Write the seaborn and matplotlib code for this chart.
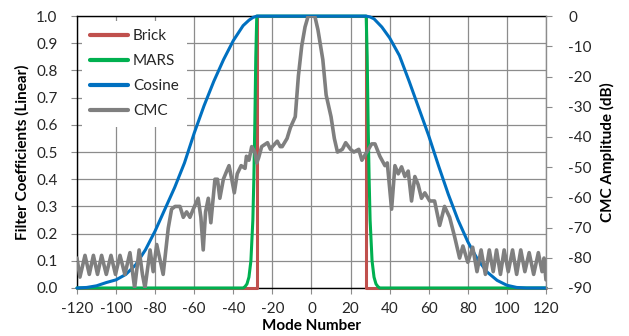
import numpy as np
import pandas as pd
import matplotlib
matplotlib.use("Agg")
import matplotlib.pyplot as plt
import seaborn as sns
from matplotlib.lines import Line2D

# ---------------- data ----------------
brick_x = [-120, -28, -28, 28, 28, 120]
brick_y = [0, 0, 1, 1, 0, 0]

mars_x = [-120, -35, -34, -33, -32, -31, -30, -29.5, -29, -28.5, -28,
          28, 28.5, 29, 29.5, 30, 31, 32, 33, 34, 35, 120]
mars_y = [0, 0, 0.005, 0.015, 0.04, 0.1, 0.25, 0.4, 0.6, 0.85, 1,
          1, 0.85, 0.6, 0.4, 0.25, 0.1, 0.04, 0.015, 0.005, 0, 0]

cos_x = [-120, -115, -110, -105, -100, -95, -90, -85, -80, -75, -70, -65,
         -60, -55, -50, -45, -40, -35, -32, -30, -28,
         28, 30, 32, 36, 40, 45, 50, 55, 60, 65, 70, 75, 80, 85, 90, 95,
         100, 105, 110, 115, 120]
cos_y = [0.0, 0.002, 0.008, 0.02, 0.03, 0.05, 0.085, 0.14, 0.21, 0.29, 0.37, 0.46,
         0.57, 0.67, 0.76, 0.84, 0.91, 0.965, 0.985, 0.995, 1.0,
         1.0, 0.997, 0.99, 0.96, 0.92, 0.855, 0.76, 0.66, 0.56, 0.45, 0.345,
         0.25, 0.17, 0.105, 0.058, 0.028, 0.01, 0.002, 0.0, 0.0, 0.0]

cmc_x = [-120, -118.5, -115.9, -113.7, -111.6, -109.5, -107.4, -105, -102.6,
         -100.3, -98, -95.5, -92.9, -90.5, -88.2, -86.5, -85.2, -82.6, -81,
         -79.2, -75.9, -73.3, -71.6, -69.8, -67.3, -65.6, -63.9, -62.2, -60.5,
         -58, -56.6, -55.4, -54.2, -52.8, -51.5, -49.4, -48.1, -46.9, -45.1,
         -43.4, -42.2, -40.8, -39.5, -38, -36, -34, -33.3, -32, -30.6, -29,
         -28, -27, -25.5, -22.5, -21, -20, -17.5, -16, -15, -12.5, -10.8,
         -8.3, -6.7, -5, -3.3, -1.7, 0, 1.7, 3.3, 5.8, 7.5, 10, 11.7, 13.3,
         15.8, 17.5, 20, 21.7, 24.2, 25.8, 28.3, 30.8, 32.5, 35, 37.6, 38.8,
         41, 42.7, 44.4, 46.1, 47.8, 49.5, 51.2, 52.9, 54.6, 56.3, 58, 60.5,
         63, 65.6, 68.1, 70.7, 73.2, 75.8, 77.5, 80, 82.5, 84.7, 86.8, 89,
         91, 93, 94.7, 96.7, 98.6, 100.7, 102.9, 105, 107.1, 109.2, 111.4,
         113.7, 116.1, 118, 119, 120]
cmc_db = [-80.1, -86.4, -79.2, -85.5, -79.2, -85.5, -79.2, -85.5, -79.2,
          -85.5, -79.2, -85.5, -78.3, -90.0, -77.4, -85.5, -90.0, -77.4, -84.6,
          -75.6, -85.5, -70.2, -63.9, -63.0, -63.0, -66.6, -64.8, -66.6, -63.9,
          -60.3, -66.6, -77.4, -64.8, -60.3, -68.4, -54.0, -54.0, -60.3, -54.0,
          -51.3, -49.5, -54.0, -58.5, -52.2, -49.5, -50.4, -46.4, -47.7, -43.2, -45.0,
          -48.6, -46.8, -43.2, -41.9, -44.1, -43.2, -41.4, -43.2, -43.2, -40.5, -36.9,
          -33.3, -19.8, -9.9, -3.6, 0.0, 0.0, 0.0, -4.5, -14.4, -26.1, -33.3, -40.5, -45.0,
          -44.1, -41.9, -44.1, -45.0, -44.1, -47.7, -45.0, -42.3, -42.3, -46.4, -49.5, -48.6,
          -63.9, -49.5, -52.2, -49.9, -53.1, -51.3, -61.2, -53.1, -55.8, -60.3, -58.5, -61.2,
          -61.2, -69.3, -63.0, -66.6, -72.9, -80.1, -76.1, -81.5, -76.5, -84.6, -77.4, -85.5,
          -77.4, -84.6, -77.4, -85.5, -77.4, -84.6, -77.4, -85.5, -77.4, -84.6, -78.3,
          -85.5, -78.3, -84.6, -80.1, -87.3]

# ---------------- styling ----------------
sns.set_theme(style="white")
plt.rcParams['font.family'] = ['Lato', 'DejaVu Sans']
plt.rcParams['axes.unicode_minus'] = False

C_BRICK = "#C0504D"
C_MARS = "#00B050"
C_COS = "#0070C0"
C_CMC = "#7F7F7F"
GRID = "#8C8C8C"
TXT = "#262626"

fig = plt.figure(figsize=(6.29, 3.36), dpi=100)
ax = fig.add_axes([0.1224, 0.1429, 0.868 - 0.1224, 0.952 - 0.1429])

df_b = pd.DataFrame({"x": brick_x, "y": brick_y})
df_m = pd.DataFrame({"x": mars_x, "y": mars_y})
df_c = pd.DataFrame({"x": cos_x, "y": cos_y})
df_cmc = pd.DataFrame({"x": cmc_x, "y": cmc_db})

sns.lineplot(data=df_b, x="x", y="y", ax=ax, color=C_BRICK, lw=2.2,
             estimator=None, sort=False, zorder=3, clip_on=False)
sns.lineplot(data=df_m, x="x", y="y", ax=ax, color=C_MARS, lw=2.2,
             estimator=None, sort=False, zorder=3.1, clip_on=False)
sns.lineplot(data=df_c, x="x", y="y", ax=ax, color=C_COS, lw=2.2,
             estimator=None, sort=False, zorder=3.2, clip_on=False)

ax.set_xlim(-120, 120)
ax.set_ylim(0, 1.0)
ax.set_xticks(np.arange(-120, 121, 20))
ax.set_yticks(np.arange(0, 1.01, 0.1))
ax.set_yticklabels([f"{v:.1f}" for v in np.arange(0, 1.01, 0.1)])
ax.grid(True, color=GRID, lw=0.9)
ax.set_axisbelow(True)
ax.set_xlabel("Mode Number", fontsize=11, fontweight="bold", labelpad=2,
              color="black")
ax.set_ylabel("Filter Coefficients (Linear)", fontsize=11, fontweight="bold",
              labelpad=5, color="black")
ax.tick_params(axis="both", labelsize=11, labelcolor=TXT, color=GRID, length=4,
               width=0.8, direction="out", left=True, bottom=True)
ax.tick_params(axis="y", pad=10)
ax.tick_params(axis="x", pad=6)
for s in ["left", "bottom", "top"]:
    ax.spines[s].set_color("black")
    ax.spines[s].set_linewidth(1.0)
    ax.spines[s].set_zorder(2.5)
ax.spines["right"].set_visible(False)

ax2 = ax.twinx()
sns.lineplot(data=df_cmc, x="x", y="y", ax=ax2, color=C_CMC, lw=2.6,
             estimator=None, sort=False, zorder=3)
ax2.set_ylim(-90, 0)
ax2.set_yticks(np.arange(-90, 1, 10))
ax2.set_ylabel("CMC Amplitude (dB)", fontsize=11, fontweight="bold", labelpad=6,
               color="black")
ax2.tick_params(axis="y", labelsize=11, labelcolor=TXT, color=GRID, length=4,
                width=0.8, direction="out", right=True, pad=12)
for s in ["left", "bottom", "top"]:
    ax2.spines[s].set_visible(False)
ax2.spines["right"].set_color(GRID)
ax2.spines["right"].set_linewidth(1.0)
ax2.set_xlim(-120, 120)

handles = [Line2D([], [], color=C_BRICK, lw=3),
           Line2D([], [], color=C_MARS, lw=3),
           Line2D([], [], color=C_COS, lw=3),
           Line2D([], [], color=C_CMC, lw=3)]
leg = ax2.legend(handles, ["Brick", "MARS", "Cosine", "CMC"], loc="upper left",
                 bbox_to_anchor=(0.0, 1.0), fontsize=11, frameon=True,
                 facecolor="white", edgecolor="none", framealpha=1,
                 handlelength=2.5, handletextpad=0.3, labelspacing=0.72,
                 borderpad=0.55, borderaxespad=0.3, fancybox=False)
leg.set_zorder(10)
for t in leg.get_texts():
    t.set_color(TXT)

fig.savefig("out.png", dpi=100)
